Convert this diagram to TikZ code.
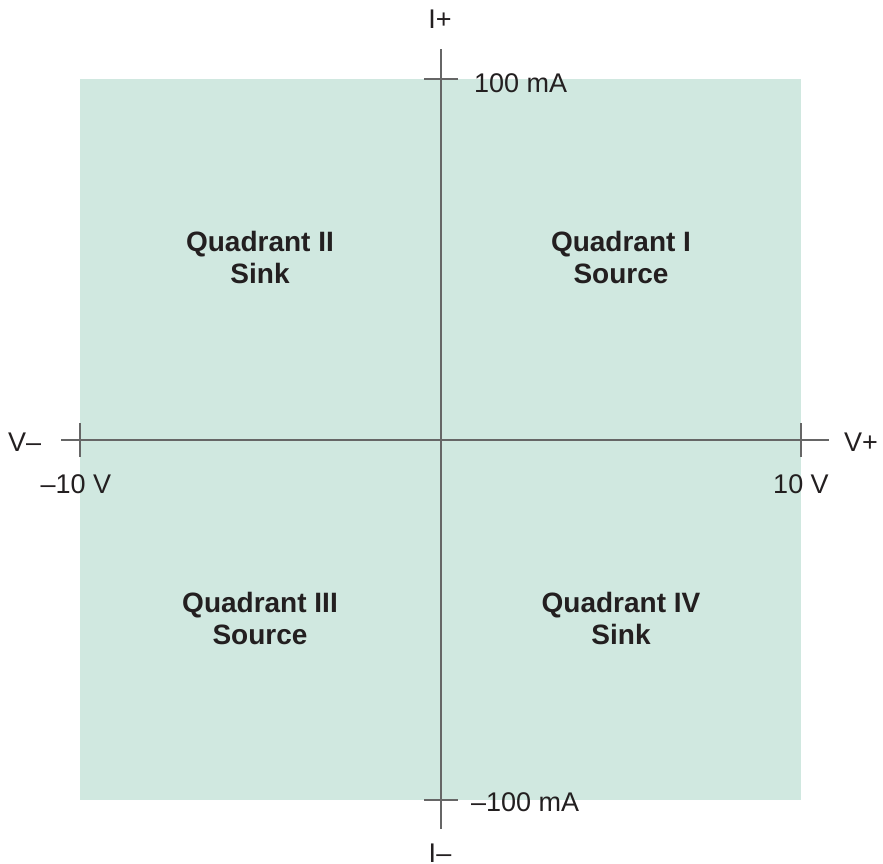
\documentclass[tikz,border=0pt]{standalone}
\usepackage{fontspec}
\setmainfont{Liberation Sans}
\usetikzlibrary{calc}
\definecolor{quadfill}{HTML}{D0E8E0}
\definecolor{axisgray}{HTML}{666666}
\definecolor{inkdark}{HTML}{231F20}
\tikzset{
	axisline/.style={line width=2pt, color=axisgray},
	ticklabel/.style={text=inkdark, font=\fontsize{27}{31}\selectfont, inner sep=0pt},
	quadlabel/.style={text=inkdark, font=\bfseries\fontsize{28}{32}\selectfont, align=center, inner sep=0pt}
}

\begin{document}
\begin{tikzpicture}[x=1pt, y=-1pt]
		%%%%% START %%%%%
		\useasboundingbox (0, 0) rectangle (883, 863);
		
		\fill[quadfill] (80, 79) rectangle (801, 800);
		
		\coordinate (vleft) at (61, 440);
		\coordinate (vright) at (829, 440);
		\coordinate (itop) at (441, 49);
		\coordinate (ibot) at (441, 829);
		
		\draw[axisline] (vleft) -- (vright);
		\draw[axisline] (itop) -- (ibot);
		
		% ticks
		\draw[axisline] (80, 423) -- (80, 457);
		\draw[axisline] (801, 423) -- (801, 457);
		\draw[axisline] (424, 79) -- (458, 79);
		\draw[axisline] (424, 800) -- (458, 800);
		
		\node[ticklabel, anchor=base] (iplus) at (440, 28) {I+};
		\node[ticklabel, anchor=base] (iminus) at (440, 862) {I–};
		\node[ticklabel, anchor=base west] (vminus) at (8, 451) {V–};
		\node[ticklabel, anchor=base east] (vplus) at (878, 451) {V+};
		\node[ticklabel, anchor=base west] (imax) at (474, 92) {100 mA};
		\node[ticklabel, anchor=base west] (imin) at (471, 811) {–100 mA};
		\node[ticklabel, anchor=base] (vmin) at (76, 493) {–10 V};
		\node[ticklabel, anchor=base] (vmax) at (801, 493) {10 V};
		
		\node[quadlabel] (qtwo) at (260, 257) {Quadrant II\\Sink};
		\node[quadlabel] (qone) at (621, 257) {Quadrant I\\Source};
		\node[quadlabel] (qthree) at (260, 618) {Quadrant III\\Source};
		\node[quadlabel] (qfour) at (621, 618) {Quadrant IV\\Sink};
		%%%%% END %%%%%
	\end{tikzpicture}
\end{document}
